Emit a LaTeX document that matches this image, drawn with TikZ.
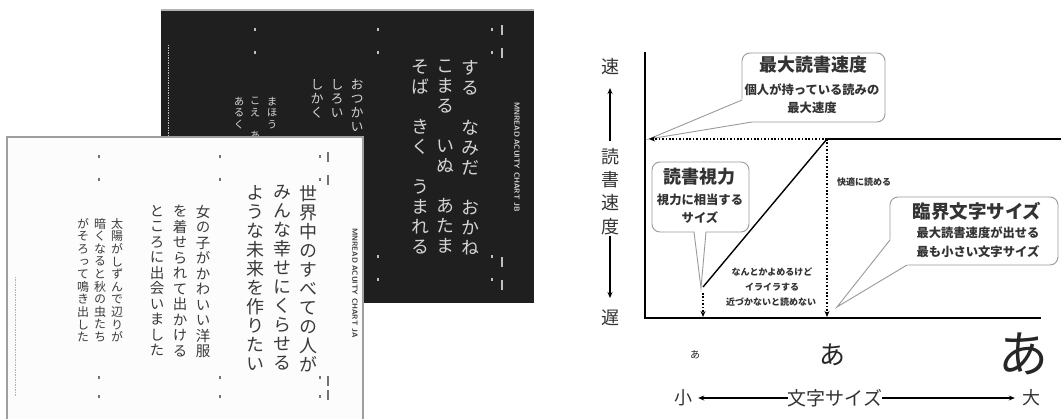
\documentclass[tikz,border=0pt]{standalone}
\usepackage{fontspec}
\newfontfamily\jp{Noto Sans CJK JP}
\newfontfamily\jpv[RawFeature=+vert]{Noto Sans CJK JP}
\usetikzlibrary{arrows.meta}
\definecolor{wcol}{HTML}{3A3A3A}
\definecolor{bcol}{HTML}{D4D4D4}
\definecolor{cgray}{HTML}{9A9A9A}
\definecolor{gtxt}{HTML}{333333}
\makeatletter
\newcommand\tate[2]{\vbox{\baselineskip=#1\lineskip=0pt\lineskiplimit=-\maxdimen\@tfor\tch:=#2\do{\hbox to 1em{\hss\tch\hss}}}}
\makeatother
\newcommand\fs[1]{\fontsize{#1}{#1}\selectfont}
\tikzset{
  wtxt/.style={anchor=north, inner sep=0pt, text=wcol},
  btxt/.style={anchor=north, inner sep=0pt, text=bcol},
  callout/.style={draw=cgray, line width=0.9pt, fill=white, rounded corners=8pt, inner sep=0pt},
  cline/.style={draw=cgray, line width=0.9pt},
  dotln/.style={line width=1.3pt, dash pattern=on 1.6pt off 1.8pt},
  arr/.style={-{Stealth[length=6pt,width=5pt]}},
  gt/.style={inner sep=0pt, text=gtxt},
  wmark/.style={fill=black!55},
  bmark/.style={fill=white!75!black},
}
\begin{document}
\begin{tikzpicture}[x=1pt,y=-1pt]
\useasboundingbox (0,0) rectangle (1061,419);
\fill[white] (0,0) rectangle (1061,419);

% ---------- black card ----------
\fill[black!88] (161,10) rectangle (534,303);
\draw[gray!60, line width=1.2pt] (161,10) -- (534,10);
\draw[gray!55, line width=1pt, dash pattern=on 1.5pt off 1pt] (168,45) -- (168,140);
\foreach \x/\y in {255/30,255/53,378/30,378/53,492/30,492/53,378/257,378/280,492/257,492/280}
  \fill[bmark] (\x-1.2,\y-1.5) rectangle (\x+1.2,\y+1.5);
\foreach \x/\y in {502/30,502/53,502/262,502/285}
  \fill[bmark] (\x-1,\y-5) rectangle (\x+1,\y+5);
\node[rotate=-90, inner sep=0pt, text=bcol, font=\sffamily\bfseries\fs{7.5}] (blab) at (517,157) {MNREAD ACUITY CHART JB};

\node[btxt, font=\jpv\fs{18}] (b1) at (470,60) {\tate{20pt}{する~なみだ~おかね}};
\node[btxt, font=\jpv\fs{18}] (b2) at (445,60) {\tate{20pt}{こまる~いぬ~あたま}};
\node[btxt, font=\jpv\fs{18}] (b3) at (420,60) {\tate{20pt}{そば~きく~うまれる}};
\node[btxt, font=\jpv\fs{13}] (b4) at (357,79) {\tate{14pt}{おつかい}};
\node[btxt, font=\jpv\fs{13}] (b5) at (337,79) {\tate{14pt}{しろい}};
\node[btxt, font=\jpv\fs{13}] (b6) at (317,79) {\tate{14pt}{しかく}};
\node[btxt, font=\jpv\fs{10.5}] (b7) at (272,97) {\tate{11.5pt}{まほう}};
\node[btxt, font=\jpv\fs{10.5}] (b8) at (255,97) {\tate{11.5pt}{こえ~あ}};
\node[btxt, font=\jpv\fs{10.5}] (b9) at (239,97) {\tate{11.5pt}{あるく}};

% ---------- white card ----------
\filldraw[fill=white!99!black, draw=gray!75, line width=1.3pt] (7,137) rectangle (363,430);
\draw[gray!60, line width=1pt, dash pattern=on 1.5pt off 1pt] (15,277) -- (15,397);
\foreach \x/\y in {99/157,99/180,220/157,220/180,320/157,320/180,99/378,99/397,220/378,220/397,320/378,320/397}
  \fill[wmark] (\x-1.2,\y-1.5) rectangle (\x+1.2,\y+1.5);
\foreach \x/\y in {328/157,328/180,328/381,328/395}
  \fill[wmark] (\x-1,\y-5) rectangle (\x+1,\y+5);
\node[rotate=-90, inner sep=0pt, text=wcol, font=\sffamily\bfseries\fs{7.5}] (wlab) at (355,283) {MNREAD ACUITY CHART JA};

\node[wtxt, font=\jpv\fs{18}] (w1) at (308,185) {\tate{19pt}{世界中のすべての人が}};
\node[wtxt, font=\jpv\fs{18}] (w2) at (282,185) {\tate{19pt}{みんな幸せにくらせる}};
\node[wtxt, font=\jpv\fs{18}] (w3) at (255,185) {\tate{19pt}{ような未来を作りたい}};
\node[wtxt, font=\jpv\fs{14.5}] (w4) at (203,205) {\tate{15.5pt}{女の子がかわいい洋服}};
\node[wtxt, font=\jpv\fs{14.5}] (w5) at (180,205) {\tate{15.5pt}{を着せられて出かける}};
\node[wtxt, font=\jpv\fs{14.5}] (w6) at (157,205) {\tate{15.5pt}{ところに出会いました}};
\node[wtxt, font=\jpv\fs{12}] (w7) at (117,218) {\tate{12.6pt}{太陽がしずんで辺りが}};
\node[wtxt, font=\jpv\fs{12}] (w8) at (100,218) {\tate{12.6pt}{暗くなると秋の虫たち}};
\node[wtxt, font=\jpv\fs{12}] (w9) at (83,218) {\tate{12.6pt}{がそろって鳴き出した}};

% ---------- graph ----------
\coordinate (top) at (645,52);
\coordinate (orig) at (645,318);
\coordinate (xend) at (1041,318);
\coordinate (knee) at (827,139);
\coordinate (ytip) at (649,139);
\coordinate (rend) at (1061,139);
\coordinate (low) at (703,287);
\coordinate (lowa) at (703,293);
\coordinate (lowb) at (703,317);
\coordinate (kneeb) at (827,317);

% callouts (boxes)
\node[callout, minimum width=143pt, minimum height=69pt] (mrsbox) at (813.5,87.5) {};
\node[callout, minimum width=97pt, minimum height=70pt] (rabox) at (700.5,197) {};
\node[callout, minimum width=168pt, minimum height=68pt] (crbox) at (974,231) {};

% pointers
\fill[white] (742.5,99) -- (ytip) -- (752.5,122.5) -- cycle;
\draw[cline] (742,100) -- (ytip) -- (752,122);
\fill[white] (694,229) -- (701,288) -- (706,229) -- cycle;
\draw[cline] (694,232) -- (701,288) -- (706,232);
\fill[white] (890.5,239) -- (837,307) -- (908,264.5) -- cycle;
\draw[cline] (890,240) -- (837,307) -- (907,265);

% callout texts
\node[gt, font=\jp\bfseries\fs{18}] (mrs1) at (813,65) {最大読書速度};
\node[gt, font=\jp\bfseries\fs{12.3}] (mrs2) at (812,90) {個人が持っている読みの};
\node[gt, font=\jp\bfseries\fs{12.3}] (mrs3) at (812,108) {最大速度};
\node[gt, font=\jp\bfseries\fs{18}] (ra1) at (699,177) {読書視力};
\node[gt, font=\jp\bfseries\fs{12.3}] (ra2) at (700,200) {視力に相当する};
\node[gt, font=\jp\bfseries\fs{12.3}] (ra3) at (700,218) {サイズ};
\node[gt, font=\jp\bfseries\fs{18.5}] (cr1) at (977,211) {臨界文字サイズ};
\node[gt, font=\jp\bfseries\fs{12.3}] (cr2) at (978,233) {最大読書速度が出せる};
\node[gt, font=\jp\bfseries\fs{12.3}] (cr3) at (978,252) {最も小さい文字サイズ};

% curve
\draw[line width=2.6pt] (top) -- (orig) -- (xend);
\draw[line width=1.3pt] (knee) -- (rend);
\draw[line width=1.4pt] (knee) -- (low);
\draw[dotln, arr] (knee) -- (ytip);
\draw[dotln, arr] (knee) -- (kneeb);
\draw[dotln, arr] (lowa) -- (lowb);

\node[gt, font=\jp\bfseries\fs{9}] (kai) at (864,182) {快適に読める};
\node[gt, font=\jp\bfseries\fs{9}] (n1) at (772,272) {なんとかよめるけど};
\node[gt, font=\jp\bfseries\fs{9}] (n2) at (772,287) {イライラする};
\node[gt, font=\jp\bfseries\fs{9}] (n3) at (771,302) {近づかないと読めない};

% y axis labels
\node[gt, font=\jp\fs{18}] (fast) at (610,67) {速};
\node[gt, font=\jp\fs{18}] (yl1) at (610,157) {読};
\node[gt, font=\jp\fs{18}] (yl2) at (610,180) {書};
\node[gt, font=\jp\fs{18}] (yl3) at (610,203) {速};
\node[gt, font=\jp\fs{18}] (yl4) at (610,227) {度};
\node[gt, font=\jp\fs{18}] (slow) at (610,318) {遅};
\draw[line width=1.1pt, arr] (yl1.north |- 0,141) -- (fast.south |- 0,88);
\draw[line width=1.1pt, arr] (yl4.south |- 0,236) -- (slow.north |- 0,298);

% x labels
\node[gt, text=black!85, font=\jp\fs{10}] (a1) at (695,355) {あ};
\node[gt, text=black!85, font=\jp\fs{26}] (a2) at (832,355) {あ};
\node[gt, text=black!85, font=\jp\fs{50}] (a3) at (1023,354) {あ};

\node[gt, font=\jp\fs{18}] (small) at (683,398) {小};
\node[gt, font=\jp\fs{19}] (size) at (835,398) {文字サイズ};
\node[gt, font=\jp\fs{18}] (large) at (1031,398) {大};
\draw[line width=1.1pt, arr, shorten >=6pt] (size.west) -- (small.east);
\draw[line width=1.1pt, arr, shorten >=7pt] (size.east) -- (large.west);
\end{tikzpicture}
\end{document}
